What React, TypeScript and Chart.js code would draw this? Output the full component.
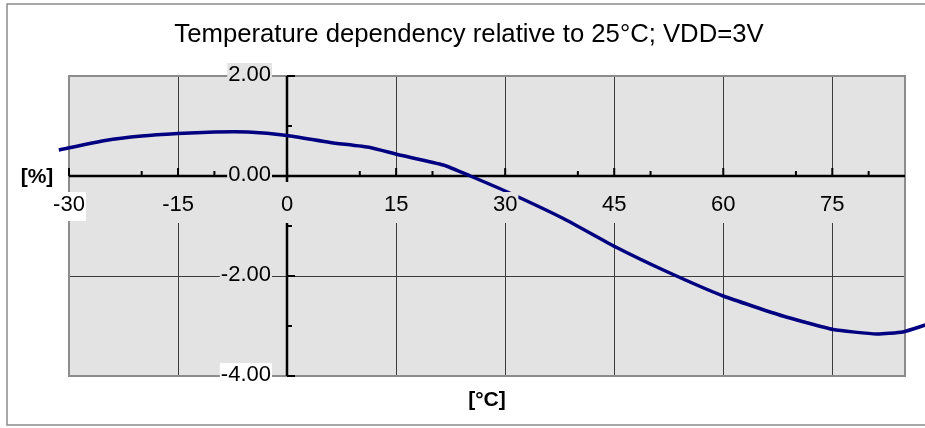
import React, { useEffect, useRef } from 'react';
import { Chart, registerables } from 'chart.js';

Chart.register(...registerables);

const temperatures = [-31.4, -25, -20, -15, -10, -5.4, 0, 5.9, 11.4, 15.2, 21.5, 25.2, 30, 38, 45.2, 52.2, 60, 68.2, 75.1, 81.1, 84.7, 87.8];
const deviation = [0.52, 0.71, 0.8, 0.85, 0.88, 0.88, 0.81, 0.67, 0.57, 0.43, 0.22, 0.0, -0.3, -0.85, -1.42, -1.91, -2.4, -2.8, -3.07, -3.16, -3.12, -2.98];

const xTicks = [-30, -15, 0, 15, 30, 45, 60, 75];
const xMinorTicks = [-20, -10, 10, 20, 40, 50, 70, 80];
const yTicks = [2, 0, -2, -4];
const yMinorTicks = [1, -1, -3];
const yTickLabels = ['2.00', '0.00', '-2.00', '-4.00'];

const titleText = 'Temperature dependency relative to 25°C; VDD=3V';
const xTitle = '[°C]';
const yTitle = '[%]';

const FONT = '"Liberation Sans", Arial, sans-serif';
const PLOT_BG = '#e3e3e3';

const decor = {
  id: 'decor',
  beforeDatasetsDraw(chart: any) {
    const { ctx, chartArea: ca, scales } = chart;
    const x = scales.x, y = scales.y;
    const x0 = Math.round(x.getPixelForValue(0));
    const y0 = Math.round(y.getPixelForValue(0));
    ctx.save();
    // outer frame
    ctx.strokeStyle = '#8a8a8a';
    ctx.lineWidth = 1.5;
    ctx.strokeRect(7, 4, 960, 421);
    // plot background
    ctx.fillStyle = PLOT_BG;
    ctx.fillRect(ca.left, ca.top, ca.width, ca.height);
    // vertical grid lines
    ctx.strokeStyle = '#3c3c3c';
    ctx.lineWidth = 1;
    for (const t of xTicks) {
      if (t === -30 || t === 0) continue;
      const px = Math.round(x.getPixelForValue(t)) + 0.5;
      ctx.beginPath();
      ctx.moveTo(px, ca.top);
      ctx.lineTo(px, y0);
      ctx.moveTo(px, 223);
      ctx.lineTo(px, ca.bottom);
      ctx.stroke();
    }
    // horizontal grid lines
    for (const t of yTicks) {
      if (t === 0 || t === 2 || t === -4) continue;
      const py = Math.round(y.getPixelForValue(t)) + 0.5;
      ctx.beginPath();
      ctx.moveTo(ca.left, py);
      ctx.lineTo(ca.right, py);
      ctx.stroke();
    }
    // plot border
    ctx.strokeStyle = '#8c8c8c';
    ctx.lineWidth = 2;
    ctx.strokeRect(ca.left, ca.top, ca.width, ca.height);
    // axis lines
    ctx.strokeStyle = '#000';
    ctx.lineWidth = 2.5;
    ctx.beginPath();
    ctx.moveTo(ca.left, y0);
    ctx.lineTo(ca.right, y0);
    ctx.moveTo(x0, ca.top);
    ctx.lineTo(x0, y0 + 6);
    ctx.moveTo(x0, 223);
    ctx.lineTo(x0, ca.bottom);
    ctx.stroke();
    // y ticks
    ctx.lineWidth = 2;
    for (const t of yTicks) {
      const py = y.getPixelForValue(t);
      ctx.beginPath();
      ctx.moveTo(x0, py);
      ctx.lineTo(x0 + 8, py);
      ctx.stroke();
    }
    for (const t of yMinorTicks) {
      const py = y.getPixelForValue(t);
      ctx.beginPath();
      ctx.moveTo(x0, py);
      ctx.lineTo(x0 + 5, py);
      ctx.stroke();
    }
    // x ticks
    for (const t of xTicks) {
      const px = x.getPixelForValue(t);
      ctx.beginPath();
      ctx.moveTo(px, y0);
      ctx.lineTo(px, y0 - 8);
      ctx.stroke();
    }
    for (const t of xMinorTicks) {
      const px = x.getPixelForValue(t);
      ctx.beginPath();
      ctx.moveTo(px, y0);
      ctx.lineTo(px, y0 - 5);
      ctx.stroke();
    }
    ctx.restore();
  },
  afterDatasetsDraw(chart: any) {
    const { ctx, scales } = chart;
    const x = scales.x, y = scales.y;
    const x0 = Math.round(x.getPixelForValue(0));
    ctx.save();
    ctx.font = `22px ${FONT}`;
    ctx.textBaseline = 'middle';
    // x tick labels
    ctx.textAlign = 'center';
    for (const t of xTicks) {
      const px = x.getPixelForValue(t);
      const label = String(t);
      const w = ctx.measureText(label).width;
      ctx.fillStyle = t === -30 ? '#ffffff' : PLOT_BG;
      ctx.fillRect(px - w / 2 - 1, 192, w + 2, 29);
      ctx.fillStyle = '#000';
      ctx.fillText(label, px, 205);
    }
    // y tick labels
    ctx.textAlign = 'right';
    yTicks.forEach((t, i) => {
      const py = y.getPixelForValue(t);
      const label = yTickLabels[i];
      const w = ctx.measureText(label).width;
      const right = x0 - 16;
      ctx.fillStyle = t === -4 ? '#ffffff' : PLOT_BG;
      ctx.fillRect(right - w - 1, py - 13, w + 2, 22);
      ctx.fillStyle = '#000';
      ctx.fillText(label, right, py - 1);
    });
    ctx.restore();
  },
  afterDraw(chart: any) {
    const { ctx, chartArea: ca } = chart;
    ctx.save();
    ctx.fillStyle = '#000';
    ctx.textBaseline = 'middle';
    ctx.textAlign = 'center';
    ctx.font = `25.7px ${FONT}`;
    ctx.fillText(titleText, 469, 35);
    ctx.font = `bold 21px ${FONT}`;
    ctx.fillText(xTitle, (ca.left + ca.right) / 2, 400);
    ctx.fillText(yTitle, 37, 177);
    ctx.restore();
  },
};

export default function App() {
  const ref = useRef<HTMLCanvasElement | null>(null);
  useEffect(() => {
    document.body.style.margin = '0';
    const canvas = ref.current;
    if (!canvas) return;
    const chart = new Chart(canvas, {
      type: 'line',
      data: {
        datasets: [
          {
            data: temperatures.map((t, i) => ({ x: t, y: deviation[i] })),
            borderColor: '#000080',
            borderWidth: 3.5,
            pointRadius: 0,
            tension: 0.15,
            fill: false,
            clip: false as any,
          },
        ],
      },
      options: {
        responsive: false,
        animation: false,
        layout: { padding: { left: 69, right: 20, top: 76, bottom: 52 } },
        plugins: { legend: { display: false }, tooltip: { enabled: false }, title: { display: false } },
        scales: {
          x: { type: 'linear', min: -30, max: 85, display: false },
          y: { type: 'linear', min: -4, max: 2, display: false },
        },
      },
      plugins: [decor],
    });
    return () => chart.destroy();
  }, []);
  return <canvas ref={ref} width={925} height={428} style={{ display: 'block' }} />;
}
